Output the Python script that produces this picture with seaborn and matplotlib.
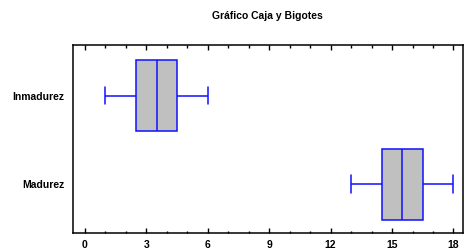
import matplotlib
matplotlib.use("Agg")
import matplotlib.pyplot as plt
from matplotlib.ticker import MultipleLocator
import seaborn as sns
import pandas as pd

categorias = ["Inmadurez", "Madurez"]
# puntos que dan min, Q1, mediana, Q3, max de cada grupo
inmadurez = [1, 2.5, 3.5, 4.5, 6]
madurez = [13, 14.5, 15.5, 16.5, 18]
ticks_x = [0, 3, 6, 9, 12, 15, 18]

df = pd.DataFrame({
    "valor": inmadurez + madurez,
    "grupo": [categorias[0]] * len(inmadurez) + [categorias[1]] * len(madurez),
})

sns.set_style("white")
plt.rcParams["font.family"] = ["Liberation Sans", "DejaVu Sans"]
plt.rcParams["text.color"] = "black"

fig = plt.figure(figsize=(4.65, 2.5), dpi=100)
ax = fig.add_axes([0.156, 0.068, 0.839, 0.75])

sns.boxplot(data=df, x="valor", y="grupo", order=categorias, ax=ax,
            color="#c0c0c0", linecolor="#1010ff", linewidth=1.1,
            width=0.8, capwidths=0.2, whis=1.5, saturation=1)

ax.set_xlim(-0.6, 18.45)
ax.set_ylim(1.55, -0.565)
ax.set_xticks(ticks_x)
ax.xaxis.set_minor_locator(MultipleLocator(1))
ax.tick_params(axis="x", which="both", direction="in", top=True, bottom=True,
               labelsize=7.5, pad=5, width=1, colors="black")
ax.tick_params(axis="x", which="major", length=3.5)
ax.tick_params(axis="x", which="minor", length=1.8)
ax.tick_params(axis="y", length=0, labelsize=7.5, pad=6, labelcolor="black")
for lab in ax.get_xticklabels() + ax.get_yticklabels():
    lab.set_fontweight("bold")

for s in ax.spines.values():
    s.set_visible(True)
    s.set_color("black")
    s.set_linewidth(1.1)

ax.set_xlabel("")
ax.set_ylabel("")
ax.set_title("Gráfico Caja y Bigotes", fontsize=7.5, fontweight="bold",
             pad=19, color="black")

fig.savefig("out.png", dpi=100)
